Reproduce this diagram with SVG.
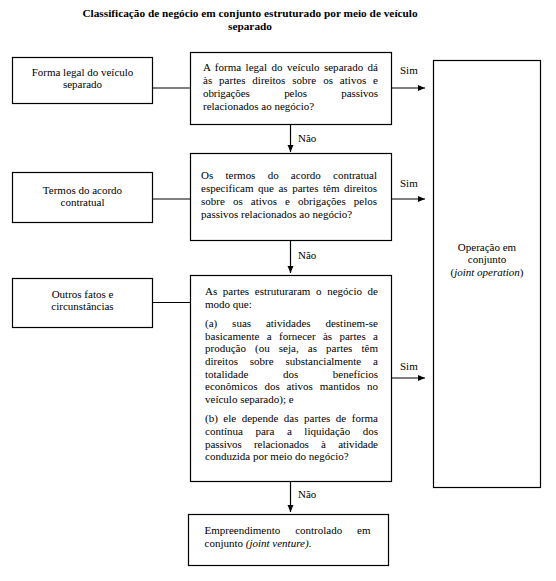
<svg xmlns="http://www.w3.org/2000/svg" width="556" height="581" viewBox="0 0 556 581">
<style>
.box{fill:#fff;stroke:#000;stroke-width:1.2}
.t{font-family:"Liberation Serif","Times New Roman",serif;font-size:11px;fill:#000}
.c{text-anchor:middle}
.title{font-weight:bold;font-size:11.3px}
.conn{stroke:#000;stroke-width:1.2;fill:none}
.i{font-style:italic}
</style>
<defs>
<marker id="ah" markerWidth="8" markerHeight="7" refX="7" refY="3" orient="auto" markerUnits="userSpaceOnUse">
<path d="M0,0 L7,3 L0,6 z" fill="#000"/>
</marker>
</defs>
<rect width="556" height="581" fill="#fff"/>
<g id="title">
<text class="t title c" x="250" y="17">Classificação de negócio em conjunto estruturado por meio de veículo</text>
<text class="t title c" x="250" y="30">separado</text>
</g>
<g id="connectors">
<line class="conn" x1="152.5" y1="88" x2="190.5" y2="88"/>
<line class="conn" x1="152.5" y1="199" x2="190.5" y2="199"/>
<line class="conn" x1="152.5" y1="302.5" x2="190.5" y2="302.5"/>
<line class="conn" x1="391.5" y1="88" x2="425" y2="88" marker-end="url(#ah)"/>
<line class="conn" x1="391.5" y1="199" x2="425" y2="199" marker-end="url(#ah)"/>
<line class="conn" x1="391.5" y1="378" x2="425" y2="378" marker-end="url(#ah)"/>
<line class="conn" x1="290.5" y1="124.5" x2="290.5" y2="152" marker-end="url(#ah)"/>
<line class="conn" x1="290.5" y1="240.5" x2="290.5" y2="273" marker-end="url(#ah)"/>
<line class="conn" x1="290.5" y1="481.5" x2="290.5" y2="512" marker-end="url(#ah)"/>
<text class="t" x="400" y="74">Sim</text>
<text class="t" x="400" y="187">Sim</text>
<text class="t" x="400" y="370">Sim</text>
<text class="t" x="298" y="142">Não</text>
<text class="t" x="298" y="259">Não</text>
<text class="t" x="298" y="498">Não</text>
</g>
<g id="forma-legal">
<rect class="box" x="12.5" y="57.5" width="140" height="46"/>
<text class="t c" x="82.5" y="76">Forma legal do veículo</text>
<text class="t c" x="82.5" y="88">separado</text>
</g>
<g id="termos">
<rect class="box" x="12.5" y="172.5" width="140" height="50"/>
<text class="t c" x="82.5" y="194">Termos do acordo</text>
<text class="t c" x="82.5" y="206">contratual</text>
</g>
<g id="outros">
<rect class="box" x="12.5" y="278.5" width="140" height="49"/>
<text class="t c" x="82.5" y="298">Outros fatos e</text>
<text class="t c" x="82.5" y="310">circunstâncias</text>
</g>
<g id="q1">
<rect class="box" x="190.5" y="52.5" width="201" height="72"/>
<text class="t" x="203" y="71" word-spacing="1.67" textLength="175" lengthAdjust="spacing">A forma legal do veículo separado dá</text>
<text class="t" x="203" y="84" word-spacing="4.2" textLength="175" lengthAdjust="spacing">às partes direitos sobre os ativos e</text>
<text class="t" x="203" y="97" word-spacing="31.75" textLength="175" lengthAdjust="spacing">obrigações pelos passivos</text>
<text class="t" x="203" y="110">relacionados ao negócio?</text>
</g>
<g id="q2">
<rect class="box" x="190.5" y="153.5" width="201" height="87"/>
<text class="t" x="201" y="179" word-spacing="9.5" textLength="176" lengthAdjust="spacing">Os termos do acordo contratual</text>
<text class="t" x="201" y="192" word-spacing="1.78" textLength="176" lengthAdjust="spacing">especificam que as partes têm direitos</text>
<text class="t" x="201" y="205" word-spacing="5.3" textLength="176" lengthAdjust="spacing">sobre os ativos e obrigações pelos</text>
<text class="t" x="201" y="218">passivos relacionados ao negócio?</text>
</g>
<g id="q3">
<rect class="box" x="190.5" y="275.5" width="201" height="206"/>
<text class="t" x="205" y="295" word-spacing="2.9" textLength="173" lengthAdjust="spacing">As partes estruturaram o negócio de</text>
<text class="t" x="205" y="307.7">modo que:</text>
<text class="t" x="205" y="326.9" word-spacing="12.1" textLength="173" lengthAdjust="spacing">(a) suas atividades destinem-se</text>
<text class="t" x="205" y="339.6" word-spacing="4.6" textLength="173" lengthAdjust="spacing">basicamente a fornecer às partes a</text>
<text class="t" x="205" y="352.3" word-spacing="6.4" textLength="173" lengthAdjust="spacing">produção (ou seja, as partes têm</text>
<text class="t" x="205" y="365" word-spacing="9.2" textLength="173" lengthAdjust="spacing">direitos sobre substancialmente a</text>
<text class="t" x="205" y="377.7" word-spacing="31.8" textLength="173" lengthAdjust="spacing">totalidade dos benefícios</text>
<text class="t" x="205" y="390.4" word-spacing="4.1" textLength="173" lengthAdjust="spacing">econômicos dos ativos mantidos no</text>
<text class="t" x="205" y="403.1">veículo separado); e</text>
<text class="t" x="205" y="422.3" word-spacing="2.8" textLength="173" lengthAdjust="spacing">(b) ele depende das partes de forma</text>
<text class="t" x="205" y="435" word-spacing="9.8" textLength="173" lengthAdjust="spacing">contínua para a liquidação dos</text>
<text class="t" x="205" y="447.7" word-spacing="9.6" textLength="173" lengthAdjust="spacing">passivos relacionados à atividade</text>
<text class="t" x="205" y="460.4">conduzida por meio do negócio?</text>
</g>
<g id="operacao">
<rect class="box" x="433.5" y="60.5" width="107" height="427"/>
<text class="t c" x="487" y="251">Operação em</text>
<text class="t c" x="487" y="263">conjunto</text>
<text class="t c" x="487" y="276">(<tspan class="i">joint operation</tspan>)</text>
</g>
<g id="joint-venture">
<rect class="box" x="188.5" y="514.5" width="200" height="51"/>
<text class="t" x="204.5" y="534" word-spacing="12.1" textLength="166" lengthAdjust="spacing">Empreendimento controlado em</text>
<text class="t" x="204.5" y="547">conjunto <tspan class="i">(joint venture)</tspan>.</text>
</g>
</svg>
